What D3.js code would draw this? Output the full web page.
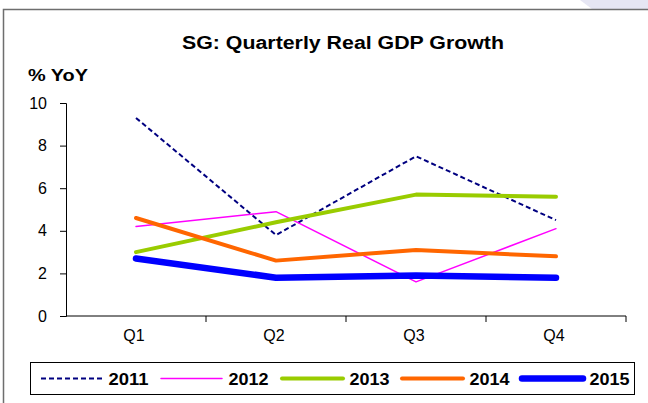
<!DOCTYPE html>
<html>
<head>
<meta charset="utf-8">
<script src="https://cdn.jsdelivr.net/npm/d3@7/dist/d3.min.js"></script>
<style>
  html, body { margin: 0; padding: 0; background: #fff; }
  svg { display: block; font-family: "Liberation Sans", Arial, sans-serif; }
</style>
</head>
<body>
<svg id="chart" width="648" height="403"></svg>
<script>
// Quarterly real GDP growth, % year on year
const quarters = ["Q1", "Q2", "Q3", "Q4"];
const years = ["2011", "2012", "2013", "2014", "2015"];
const gdp2011 = [9.3, 3.8, 7.5, 4.5];
const gdp2012 = [4.2, 4.9, 1.6, 4.1];
const gdp2013 = [3.0, 4.4, 5.7, 5.6];
const gdp2014 = [4.6, 2.6, 3.1, 2.8];
const gdp2015 = [2.7, 1.8, 1.9, 1.8];
const yTicks = [0, 2, 4, 6, 8, 10];

const seriesValues = [gdp2011, gdp2012, gdp2013, gdp2014, gdp2015];
const styles = [
  { color: "#000080", width: 2, dash: "5,3" },
  { color: "#ff00ff", width: 1.5, dash: null },
  { color: "#99cc00", width: 4, dash: null },
  { color: "#ff6600", width: 4, dash: null },
  { color: "#0000ff", width: 6.5, dash: null }
];
const series = years.map((y, i) => ({ name: y, values: seriesValues[i], style: styles[i] }));

const svg = d3.select("#chart");

// decorative corner wash behind the frame
svg.append("path")
  .attr("d", "M580,0 L648,0 L648,9 L592,9 Z")
  .attr("fill", "#e6e6f3");

// outer chart frame
svg.append("rect")
  .attr("x", 3.5).attr("y", 9.5)
  .attr("width", 700).attr("height", 420)
  .attr("fill", "none")
  .attr("stroke", "#6e6e6e")
  .attr("stroke-width", 1.5);

svg.append("text")
  .attr("x", 182).attr("y", 49)
  .attr("font-size", 18).attr("font-weight", "bold")
  .attr("textLength", 322).attr("lengthAdjust", "spacingAndGlyphs")
  .attr("fill", "#000")
  .text("SG: Quarterly Real GDP Growth");

svg.append("text")
  .attr("x", 28).attr("y", 81)
  .attr("font-size", 16).attr("font-weight", "bold")
  .attr("textLength", 60).attr("lengthAdjust", "spacingAndGlyphs")
  .attr("fill", "#000")
  .text("% YoY");

const plot = { left: 66, right: 626, top: 103, bottom: 316 };

const x = d3.scaleBand().domain(quarters).range([plot.left, plot.right]).padding(0);
const y = d3.scaleLinear().domain([0, 10]).range([plot.bottom, plot.top]);

// y axis
const yAxis = svg.append("g")
  .attr("transform", `translate(${plot.left},0)`)
  .call(d3.axisLeft(y).tickValues(yTicks).tickSize(6).tickPadding(13).tickFormat(d3.format("d")));
yAxis.select(".domain").attr("stroke", "#000").attr("stroke-width", 1);
yAxis.selectAll(".tick line").attr("stroke", "#000");
yAxis.selectAll(".tick text")
  .attr("font-size", 16).attr("fill", "#000")
  .attr("font-family", "Liberation Sans, Arial, sans-serif");

// x axis: ticks on category boundaries, labels centred on bands
const xAxisG = svg.append("g").attr("transform", `translate(0,${plot.bottom})`);
xAxisG.append("line")
  .attr("x1", plot.left).attr("x2", plot.right)
  .attr("stroke", "#000").attr("stroke-width", 1);
const boundaries = quarters.map(q => x(q) + x.bandwidth());
xAxisG.selectAll("line.tick").data(boundaries).enter().append("line")
  .attr("class", "tick")
  .attr("x1", d => d).attr("x2", d => d)
  .attr("y1", 0).attr("y2", 6)
  .attr("stroke", "#000");
xAxisG.selectAll("text").data(quarters).enter().append("text")
  .attr("x", d => x(d) + x.bandwidth() / 2 - 2)
  .attr("y", 25)
  .attr("text-anchor", "middle")
  .attr("font-size", 16).attr("fill", "#000")
  .text(d => d);

// series lines
const line = d3.line()
  .x((d, i) => x(quarters[i]) + x.bandwidth() / 2)
  .y(d => y(d));

svg.append("g").selectAll("path").data(series).enter().append("path")
  .attr("d", d => line(d.values))
  .attr("fill", "none")
  .attr("stroke", d => d.style.color)
  .attr("stroke-width", d => d.style.width)
  .attr("stroke-dasharray", d => d.style.dash)
  .attr("stroke-linejoin", "round")
  .attr("stroke-linecap", d => d.style.dash ? "butt" : "round");

// legend
const legend = svg.append("g");
legend.append("rect")
  .attr("x", 30.5).attr("y", 362.5)
  .attr("width", 604).attr("height", 32)
  .attr("fill", "#fff").attr("stroke", "#000").attr("stroke-width", 1);

const legendX = [41, 161, 282, 402, 522];
const legendItems = legend.selectAll("g.item").data(series).enter().append("g")
  .attr("class", "item")
  .attr("transform", (d, i) => `translate(${legendX[i]},378.5)`);
legendItems.append("line")
  .attr("x1", 0).attr("x2", 61)
  .attr("stroke", d => d.style.color)
  .attr("stroke-width", d => d.style.width)
  .attr("stroke-dasharray", d => d.style.dash)
  .attr("stroke-linecap", d => d.style.dash ? "butt" : "round");
legendItems.append("text")
  .attr("x", 67.5).attr("y", 6)
  .attr("font-size", 16.5).attr("font-weight", "bold")
  .attr("textLength", 40).attr("lengthAdjust", "spacingAndGlyphs")
  .attr("fill", "#000")
  .text(d => d.name);
</script>
</body>
</html>
